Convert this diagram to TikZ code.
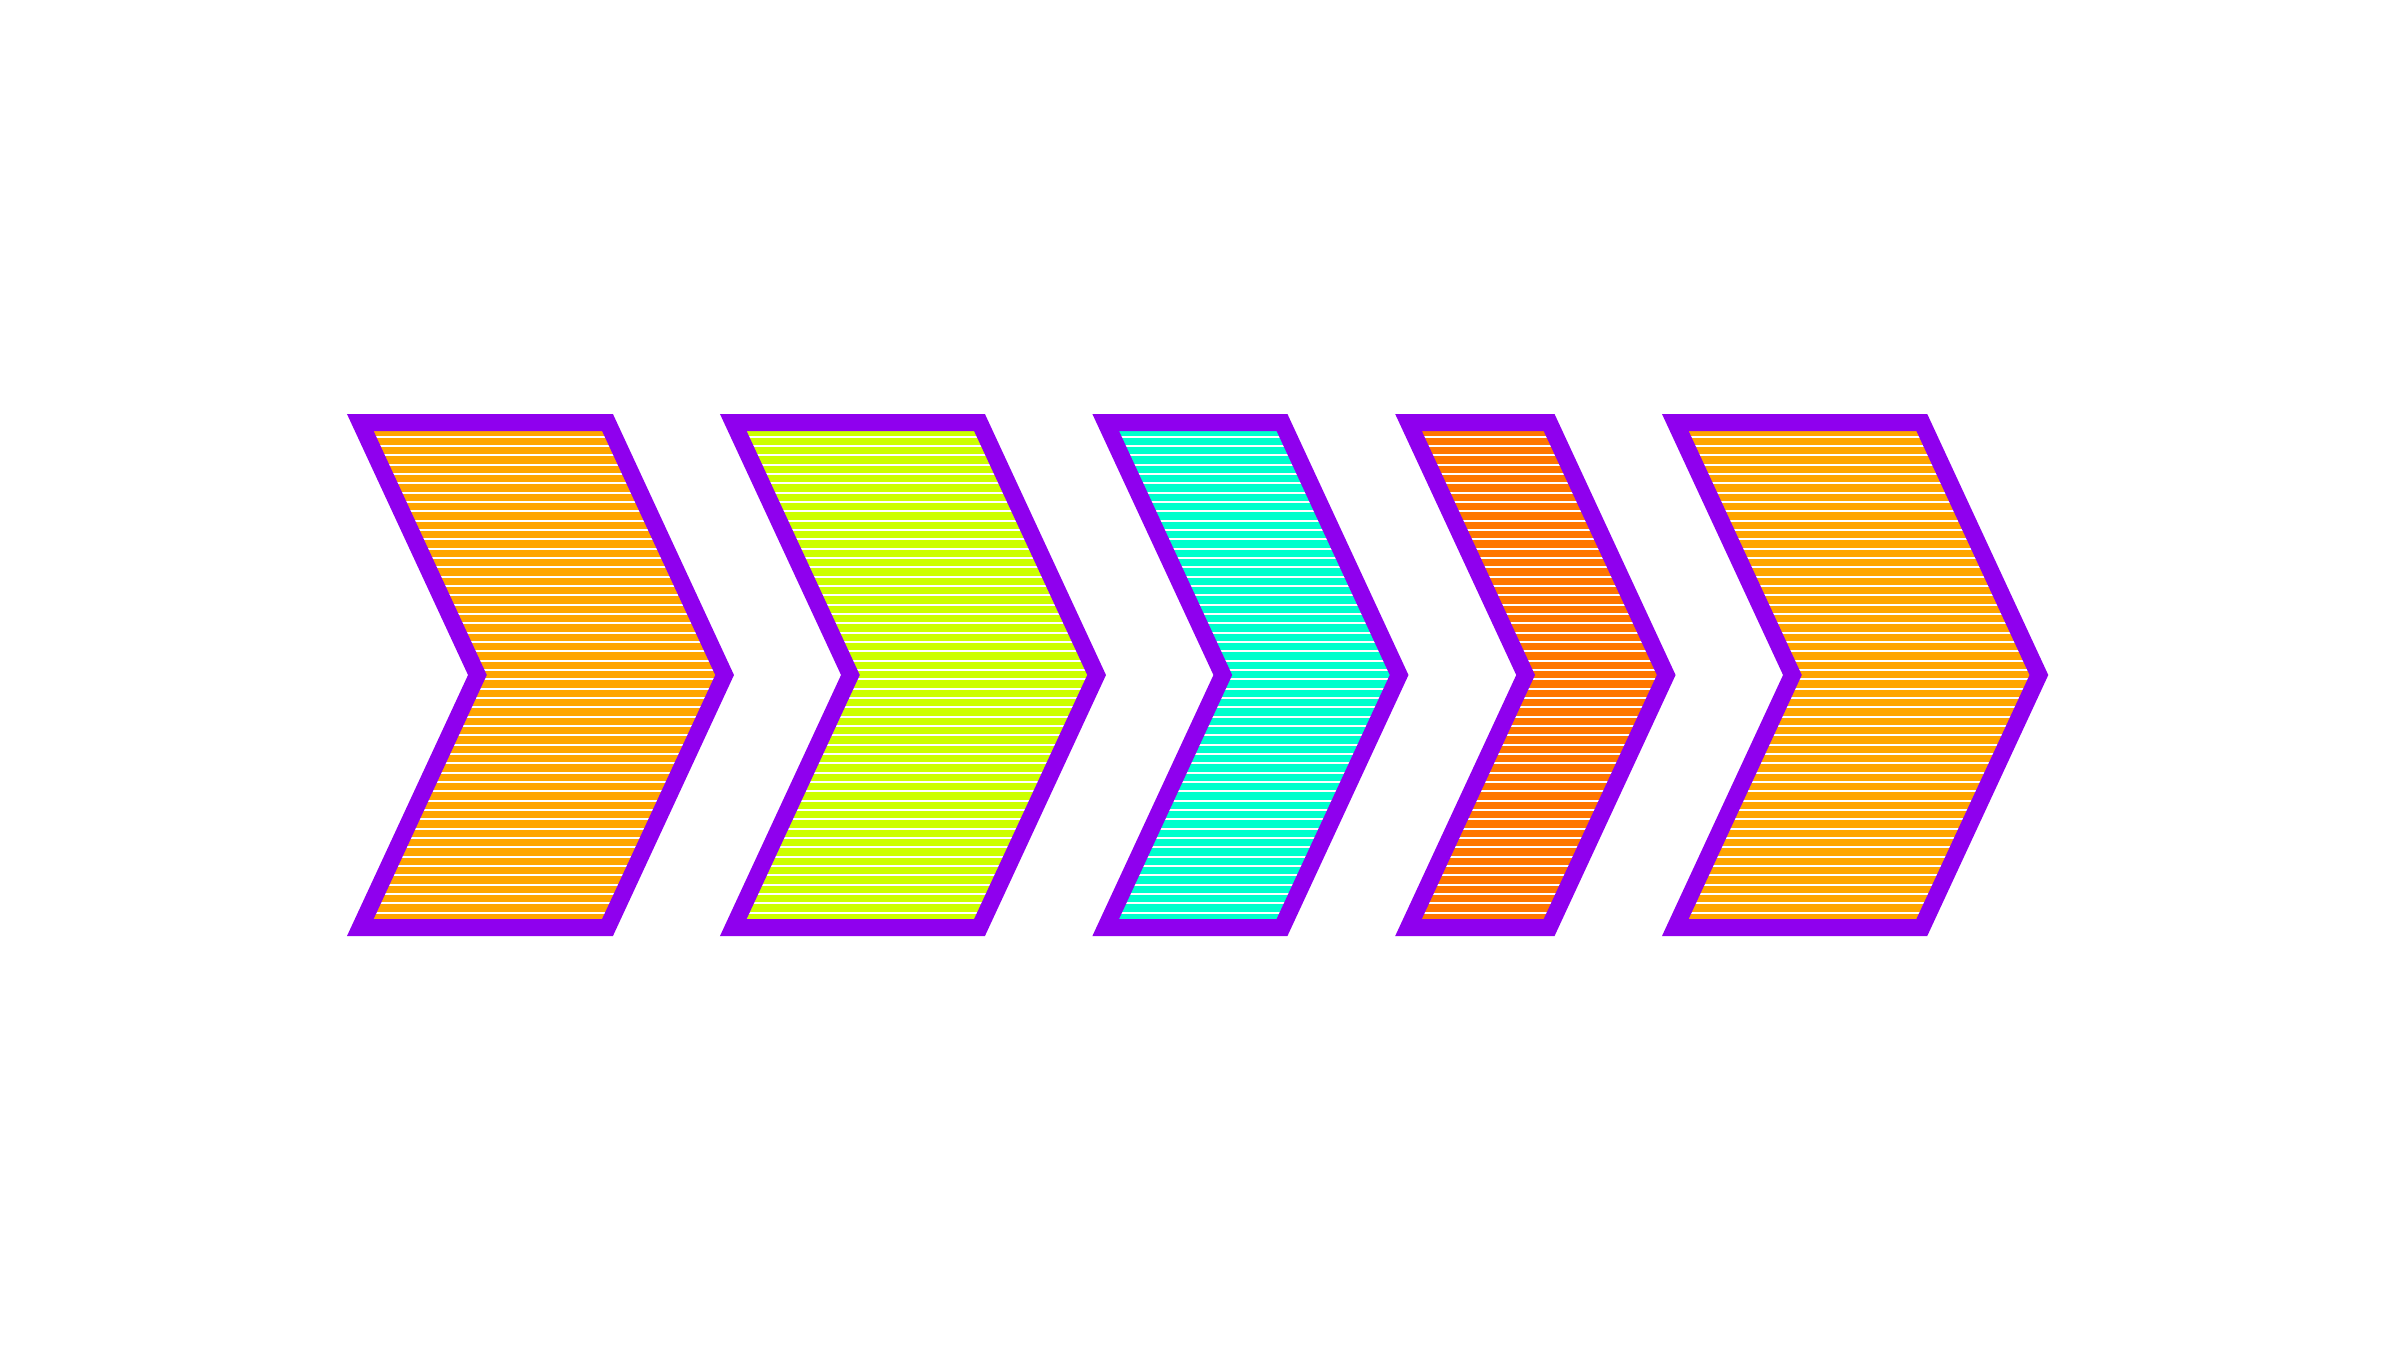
\documentclass[tikz,border=0pt]{standalone}
\definecolor{violetline}{HTML}{8F00EE}
\definecolor{fillorange}{HTML}{FFA500}
\definecolor{filllime}{HTML}{CCFF00}
\definecolor{fillaqua}{HTML}{00FFCC}
\definecolor{filldark}{HTML}{FF7700}
\tikzset{
  chevfill/.style={fill=#1},
  stripe/.style={draw=white, line width=1.8},
  chevedge/.style={draw=violetline, line width=17, line join=miter},
}
\newcommand\mychev[3]{%
  \path[chevfill=#3] (#1,422.5) -- (#2,422.5) -- ({#2+117.1},675) -- (#2,927.5) -- (#1,927.5) -- ({#1+117.1},675) -- cycle;
  \begin{scope}
    \clip (#1,422.5) -- (#2,422.5) -- ({#2+117.1},675) -- (#2,927.5) -- (#1,927.5) -- ({#1+117.1},675) -- cycle;
    \foreach \k in {0,...,51}
      \path[stripe] ({#1-5},{436.7+\k*9.3333}) -- ({#2+125},{436.7+\k*9.3333});
  \end{scope}
  \path[chevedge] (#1,422.5) -- (#2,422.5) -- ({#2+117.1},675) -- (#2,927.5) -- (#1,927.5) -- ({#1+117.1},675) -- cycle;
}
\begin{document}
\begin{tikzpicture}[x=1pt,y=-1pt]
\useasboundingbox (0,0) rectangle (2400,1350);
\mychev{360.3}{607.5}{fillorange}
\mychev{733.3}{979.5}{filllime}
\mychev{1105.7}{1282}{fillaqua}
\mychev{1408.5}{1549.1}{filldark}
\mychev{1675.3}{1921.8}{fillorange}
\end{tikzpicture}
\end{document}
